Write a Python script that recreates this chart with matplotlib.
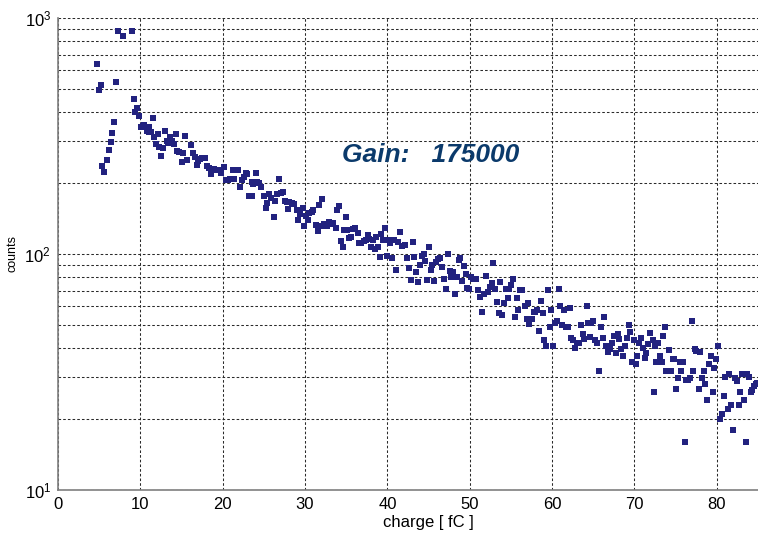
import matplotlib
matplotlib.use('Agg')
import matplotlib.pyplot as plt
from matplotlib.ticker import LogLocator

# values
charge_fc = [
    4.7, 5.0, 5.2, 5.4, 5.6, 6.0, 6.2, 6.4, 6.6, 6.8, 7.05, 7.25, 7.9, 9.0, 9.2, 9.4, 9.6, 9.85,
    10.05, 10.3, 10.5, 10.8, 11.0, 11.1, 11.3, 11.5, 11.7, 11.9, 12.1, 12.3, 12.5, 12.7, 13.0,
    13.2, 13.4, 13.6, 13.8, 14.1, 14.3, 14.5, 14.7, 15.0, 15.2, 15.4, 15.7, 16.2, 16.4, 16.6,
    16.85, 17.05, 17.25, 17.5, 17.9, 18.1, 18.35, 18.6, 18.9, 19.15, 19.5, 19.8, 20.1, 20.4,
    20.6, 20.9, 21.2, 21.4, 21.6, 21.8, 22.15, 22.35, 22.55, 22.8, 23.0, 23.2, 23.4, 23.5, 23.6,
    23.7, 24.0, 24.15, 24.45, 24.7, 25.0, 25.2, 25.4, 25.65, 25.9, 26.2, 26.4, 26.6, 26.85, 27.1,
    27.3, 27.6, 27.8, 27.9, 28.1, 28.4, 28.7, 29.0, 29.2,
    29.4, 29.7, 29.85, 30.1, 30.3, 30.5, 30.8, 31.0, 31.35, 31.55, 31.7, 31.95, 32.1, 32.35,
    32.65, 32.9, 33.2, 33.4, 33.7, 33.85, 34.1, 34.35, 34.55, 34.75, 35.0, 35.15, 35.35, 35.6,
    35.85, 36.1, 36.4, 36.6, 36.85, 37.1, 37.35, 37.6, 37.8, 38.0, 38.2, 38.45, 38.6, 38.8,
    39.05, 39.25, 39.45, 39.7, 39.95, 40.15, 40.35, 40.6, 40.8, 41.05, 41.3, 41.5,
    41.8, 42.15, 42.4, 42.65, 42.85, 43.05, 43.25, 43.5, 43.7, 43.95, 44.15, 44.4, 44.6, 44.85,
    45.05, 45.25, 45.45, 45.7, 45.9, 46.1, 46.4, 46.65, 46.85, 47.1, 47.3, 47.55, 47.75, 48.0,
    48.15, 48.4, 48.7, 48.85, 49.05, 49.3, 49.5, 49.7, 49.9, 50.2, 50.4, 50.75, 51.0, 51.25,
    51.5, 51.75, 52.0, 52.2, 52.45, 52.65, 52.8, 53.05, 53.3, 53.5, 53.7, 53.95, 54.15, 54.35,
    54.6, 54.8, 55.05, 55.25, 55.45, 55.7, 55.9, 56.15, 56.4, 56.65, 56.95, 57.1,
    57.2, 57.5, 57.75, 57.95, 58.2, 58.4, 58.6, 58.85, 59.05, 59.25, 59.5, 59.7, 59.9, 60.1,
    60.3, 60.6, 60.8, 61.0, 61.2, 61.45, 61.7, 61.9, 62.15, 62.35, 62.55, 62.8, 63.0, 63.25,
    63.45, 63.7, 63.9, 64.2, 64.35, 64.55, 64.75, 65.0, 65.2, 65.45, 65.7, 65.9, 66.15, 66.35,
    66.6, 66.8, 67.05, 67.3, 67.55, 67.8, 67.95, 68.15, 68.4, 68.65, 68.85, 69.1, 69.3, 69.5,
    69.75, 69.95, 70.15, 70.35, 70.6, 70.8, 71.05, 71.25, 71.45, 71.7, 71.9, 72.2, 72.35, 72.5,
    72.65, 72.8,
    73.05, 73.3, 73.5, 73.7, 73.85, 74.15, 74.45, 74.65, 74.85, 75.05, 75.25, 75.55, 75.7, 75.9,
    76.1, 76.3, 76.55, 76.7, 77.0, 77.1, 77.3, 77.5, 77.8, 78.0, 78.2, 78.4, 78.6, 78.85, 79.05,
    79.25, 79.5, 79.7, 79.95, 80.15, 80.4, 80.6, 80.85, 81.05, 81.3, 81.5, 81.7, 82.0, 82.25,
    82.45, 82.65, 82.85, 83.1, 83.3, 83.55, 83.7, 83.9, 84.1, 84.3, 84.5, 84.7, 84.9,
]
counts = [
    640, 495, 520, 236, 222, 250, 277, 298, 327, 362, 533, 879, 840, 879, 453, 400, 417, 385,
    344, 349, 352, 332, 346, 330, 330, 376, 313, 293, 324, 285, 260, 282, 333,
    301, 294, 314, 302, 292, 322, 273, 270, 246, 268, 316, 250, 290, 267, 258,
    238, 248, 252, 256, 254, 237, 232, 218, 230, 227, 226, 221, 234, 206,
    206, 208, 228, 208, 228, 228, 193, 206, 213, 221, 218, 176, 176, 202, 176,
    198, 220, 201, 200, 192, 176, 157, 165, 179, 172, 143, 167, 180, 208, 182,
    184, 168, 166, 155, 166, 164, 163, 153, 139,
    148, 156, 131, 145, 139, 149, 150, 153, 133, 125, 162, 131, 171, 134,
    131, 136, 134, 135, 129, 153, 159, 114, 107, 127, 144, 127, 117, 118,
    128, 129, 123, 111, 111, 113, 115, 120, 116, 107, 115, 105, 118, 107,
    97, 122, 115, 129, 98, 115, 111, 96, 115, 85.5, 112, 124,
    108, 109, 96, 87.5, 77.4, 112, 97, 84, 76.3, 89.6, 98, 100, 93, 77.4,
    107, 85.5, 89.6, 77, 92.7, 95, 96, 88.3, 78.5, 71, 100, 85, 80, 84,
    67.7, 80, 94.3, 96, 77, 89, 82, 71.8, 71, 80, 78, 78, 70.3, 65.9,
    57, 68, 81, 69.2, 72.7, 75.5, 91.9, 71, 62.4, 56.1, 76, 55, 62, 71,
    64.9, 71, 73.9, 78.5, 54, 65, 58, 70.3, 70.3, 60.2, 52.8, 62,
    50.5, 53, 57, 57, 58, 47, 63.4, 56, 43.2, 40.7, 70.3, 49.2, 58, 40.7,
    51.2, 52.1, 71, 60.2, 50, 58, 49.2, 49.2, 58.9, 43.9, 43.2, 39.8, 42.1, 42.1,
    50, 45.8, 43.5, 60.2, 51.2, 44.4, 51, 52, 43.2, 42, 32, 49, 44, 54.2,
    40.7, 38.5, 39.5, 42, 44.9, 38.2, 45.8, 43.5, 39.5, 37, 40.7, 44, 50, 46.9,
    35, 43.2, 34.2, 37, 42, 44, 39.8, 36.1, 38.2, 41.6, 46.1, 43.2, 26, 40.7,
    35, 42,
    37.1, 35, 45.1, 49.2, 32, 39.2, 32, 35.9, 35.9, 26.9, 29.8, 35, 32, 35,
    15.9, 29.3, 29.3, 29.9, 52, 32, 39.5, 38.9, 26.9, 38.3, 29.8, 32, 28.1, 24, 34.2,
    37.1, 25.9, 32.8, 35.9, 40.8, 20, 21, 25.1, 30, 22, 31, 22.9, 18, 29.8,
    29, 22.9, 25.9, 31, 24, 15.9, 31, 30, 25.9, 26.6, 27.6, 28.1, 28.3,
]
gain_text = 'Gain:   175000'

plt.rcParams['font.family'] = ['Liberation Sans', 'DejaVu Sans']
plt.rcParams['mathtext.fontset'] = 'custom'
plt.rcParams['mathtext.rm'] = 'Liberation Sans'

fig = plt.figure(figsize=(7.58, 5.34), dpi=100)
ax = fig.add_axes([58 / 758, 44 / 534, 700 / 758, 472 / 534])

ax.plot(charge_fc, counts, 's', color='#22227f', markersize=3.7,
        markeredgewidth=0, zorder=3)

ax.set_yscale('log')
ax.set_xlim(0, 85)
ax.set_ylim(10, 1000)
ax.set_xticks(range(0, 81, 10))
ax.yaxis.set_major_locator(LogLocator(base=10))
ax.yaxis.set_minor_locator(LogLocator(base=10, subs=range(2, 10)))

grid_style = dict(color='#2a2a2a', linestyle=(0, (2.5, 2.0)), linewidth=0.75)
ax.grid(True, which='major', axis='both', **grid_style)
ax.grid(True, which='minor', axis='y', **grid_style)
ax.set_axisbelow(True)

for side in ['top', 'right']:
    ax.spines[side].set_visible(False)
for side in ['left', 'bottom']:
    ax.spines[side].set_color('#7f7f7f')
    ax.spines[side].set_linewidth(1.2)

ax.tick_params(which='both', direction='in', length=0, labelsize=12,
               colors='#7f7f7f', labelcolor='black', pad=5)

# the original axis ran on past the crop, so the label sits right of centre
ax.set_xlabel('charge [ fC ]', fontsize=12, va='top')
ax.xaxis.set_label_coords(45 / 85, -0.052)
ax.set_ylabel('counts', fontsize=9, labelpad=4)

ax.text(0.406, 0.695, gain_text, transform=ax.transAxes,
        fontsize=19, fontweight='bold', fontstyle='italic',
        color='#0b3a6b', va='baseline', ha='left')

fig.savefig('out.png', dpi=100)
